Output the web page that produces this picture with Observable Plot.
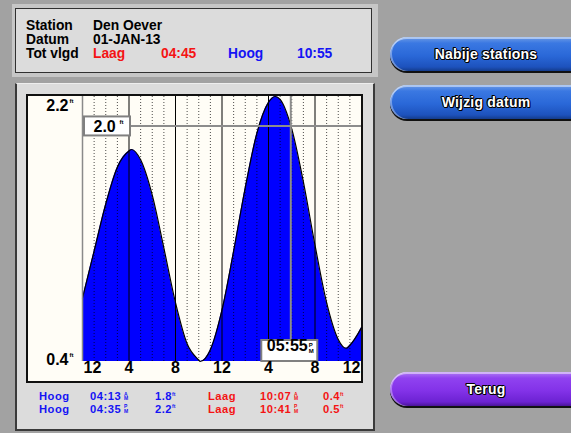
<!DOCTYPE html>
<html><head><meta charset="utf-8">
<script src="https://cdn.jsdelivr.net/npm/d3@7"></script>
<script src="https://cdn.jsdelivr.net/npm/@observablehq/plot@0.6"></script>
<style>
html,body{margin:0;padding:0;}
body{width:571px;height:433px;overflow:hidden;background:#a2a2a2;position:relative;font-family:"Liberation Sans",Arial,sans-serif;font-weight:bold;}
.abs{position:absolute;white-space:nowrap;}
#hdrOuter{position:absolute;left:12px;top:4px;width:366px;height:73px;background:#c6c6c6;}
#hdr{position:absolute;left:15px;top:8px;width:357px;height:65px;box-sizing:border-box;border:1.5px solid #303030;background:#dcdcdc;}
#panel{position:absolute;left:15px;top:83px;width:360px;height:348px;box-sizing:border-box;background:#dcdcdc;border-left:2px solid #3a3a3a;border-right:2px solid #3a3a3a;border-bottom:2px solid #3a3a3a;border-top:1px solid #eeeeee;}
#chartbox{position:absolute;left:26px;top:94px;width:337px;height:289px;box-sizing:border-box;border:2px solid #101010;background:#fffdf6;}
#chartbox svg{position:absolute;left:0;top:0;}
.h14{font-size:13.8px;line-height:14px;height:14px;color:#000;}
.t12{font-size:11.2px;line-height:11px;height:11px;letter-spacing:0.5px;}
.sup{font-size:5px;line-height:5px;height:5px;}
.btn{position:absolute;left:390px;width:200px;height:34px;border-radius:17px 0 0 17px;box-shadow:0 2px 0 #111, inset 0 2px 0 rgba(255,255,255,0.45), inset 2px 0 0 rgba(255,255,255,0.35);}
.blue{background:linear-gradient(#6f9ce6 0%,#3a78e2 18%,#2a68d8 55%,#1d52bd 88%,#143c8c 100%);}
.purple{background:linear-gradient(#b07cf2 0%,#9042f0 18%,#8332e8 55%,#6c22d2 88%,#4a1498 100%);}
.btn span{position:absolute;left:0;right:0;top:0;bottom:0;display:flex;align-items:center;justify-content:center;padding-right:8px;color:#fff;font-size:14px;letter-spacing:0.2px;text-shadow:-1px 0 #000,1px 0 #000,0 -1px #000,0 1px #000,1px 1px #000,-1px -1px #000;}
</style></head><body>
<div id="hdrOuter"></div>
<div id="hdr"></div>
<div id="panel"></div>
<div id="chartbox"></div>
<div id="layer"></div>
<script>
// ---- data ----
const headerLabels = ["Station", "Datum", "Tot vlgd"];
const stationName = "Den Oever";
const dateLabel = "01-JAN-13";
const nextTypes = ["Laag", "Hoog"];
const nextTimes = ["04:45", "10:55"];

const tideHours = [0, 1, 2, 3, 4, 4.22, 5, 6, 7, 8, 9, 10, 10.12, 11, 12, 13, 14, 15, 16, 16.58, 17, 18, 19, 20, 21, 22, 22.68, 23, 24];
const tideFeet  = [0.83, 1.15, 1.47, 1.72, 1.83, 1.84, 1.77, 1.53, 1.17, 0.80, 0.52, 0.41, 0.40, 0.48, 0.75, 1.15, 1.58, 1.95, 2.16, 2.20, 2.18, 1.98, 1.62, 1.19, 0.80, 0.55, 0.49, 0.51, 0.63];

const tickHours = [0, 4, 8, 12, 16, 20, 24];
const tickLabels = ["12", "4", "8", "12", "4", "8", "12"];
const yTickFeet = [0.4, 2.2];

const cursorHour = 17 + 55 / 60;
const cursorTime = "05:55";
const cursorMeridiem = ["P", "M"];
const cursorFeet = 2.0;

const highTimes = ["04:13", "04:35"];
const highMeridiem = ["A", "P"];
const highFeet = [1.8, 2.2];
const lowTimes = ["10:07", "10:41"];
const lowMeridiem = ["A", "P"];
const lowFeet = [0.4, 0.5];

const buttonLabels = ["Nabije stations", "Wijzig datum", "Terug"];

// ---- html text ----
const layer = document.getElementById("layer");
function put(txt, x, y, cls, color) {
  const d = document.createElement("div");
  d.className = "abs " + cls;
  d.style.left = x + "px"; d.style.top = y + "px";
  if (color) d.style.color = color;
  d.textContent = txt;
  layer.appendChild(d);
  return d;
}
const RED = "#f41414", BLUE = "#1414f4";
headerLabels.forEach((t, i) => put(t, 26, 19 + i * 14, "h14"));
put(stationName, 93, 19, "h14");
put(dateLabel, 93, 33, "h14");
put(nextTypes[0], 93, 47, "h14", RED);
put(nextTimes[0], 161, 47, "h14", RED);
put(nextTypes[1], 228, 47, "h14", BLUE);
put(nextTimes[1], 297, 47, "h14", BLUE);

[0, 1].forEach(i => {
  const top = 391 + i * 12.6;
  put("Hoog", 39, top, "t12", BLUE);
  put(highTimes[i], 90, top, "t12", BLUE);
  put(highMeridiem[i], 124, top + 0.5, "sup", BLUE);
  put("M", 124, top + 5.3, "sup", BLUE);
  put(highFeet[i].toFixed(1), 155, top, "t12", BLUE);
  put("ft", 172, top + 0.5, "sup", BLUE);
  put("Laag", 208, top, "t12", RED);
  put(lowTimes[i], 260, top, "t12", RED);
  put(lowMeridiem[i], 294, top + 0.5, "sup", RED);
  put("M", 294, top + 5.3, "sup", RED);
  put(lowFeet[i].toFixed(1), 323, top, "t12", RED);
  put("ft", 340, top + 0.5, "sup", RED);
});

const btnTops = [37, 85, 372];
buttonLabels.forEach((t, i) => {
  const b = document.createElement("div");
  b.className = "btn " + (i < 2 ? "blue" : "purple");
  b.style.top = btnTops[i] + "px";
  const s = document.createElement("span");
  s.textContent = t;
  b.appendChild(s);
  document.body.appendChild(b);
});

// ---- chart ----
const tide = tideHours.map((h, i) => ({h, v: tideFeet[i]}));
const ticks = tickHours.map((h, i) => ({h, label: tickLabels[i]}));
const minorHours = d3.range(1, 24).filter(h => h % 4 !== 0);
const majorHours = d3.range(4, 24, 4);
const yMin = d3.min(yTickFeet), yMax = d3.max(yTickFeet);
const x0 = tickHours[0];
const F = {fontSize: 16, fontWeight: "bold", fill: "#000"};
const S = {fontSize: 6, fontWeight: "bold", fill: "#000", textAnchor: "start"};

const chart = Plot.plot({
  width: 333, height: 285,
  marginLeft: 54, marginRight: 0, marginTop: 0, marginBottom: 20,
  x: {domain: [tickHours[0], tickHours[tickHours.length - 1]], axis: null},
  y: {domain: [yMin, yMax], axis: null},
  style: {background: "transparent", fontFamily: "'Liberation Sans', Arial, sans-serif", overflow: "visible"},
  marks: [
    Plot.areaY(tide, {x: "h", y1: () => yMin, y2: "v", fill: "#0000ff", curve: "monotone-x"}),
    Plot.ruleX(minorHours, {stroke: "#000", strokeOpacity: 0.7, strokeWidth: 1, strokeDasharray: "1,2"}),
    Plot.ruleX(majorHours, {stroke: "#000", strokeWidth: 1}),
    Plot.lineY(tide, {x: "h", y: "v", stroke: "#000", strokeWidth: 1.2, curve: "monotone-x"}),
    Plot.ruleX([x0], {stroke: "#8a8a8a", strokeWidth: 1.5}),
    Plot.ruleY([cursorFeet], {stroke: "#8c8c8c", strokeWidth: 2}),
    Plot.ruleX([cursorHour], {stroke: "#8c8c8c", strokeWidth: 2}),
    Plot.rect([cursorFeet], {x1: () => x0, x2: () => x0, y1: d => d, y2: d => d, fill: "#fff", stroke: "#808080", strokeWidth: 2, insetLeft: 2, insetRight: -48, insetTop: -9, insetBottom: -10}),
    Plot.text([cursorFeet], {x: () => x0, y: d => d, text: d => d.toFixed(1), textAnchor: "start", dx: 11, dy: 1, ...F}),
    Plot.text([cursorFeet], {x: () => x0, y: d => d, text: () => "ft", dx: 37, dy: -4, ...S}),
    Plot.rect([cursorHour], {x1: d => d, x2: d => d, y1: () => yMin, y2: () => yMin, fill: "#fff", stroke: "#808080", strokeWidth: 2, insetLeft: -29, insetRight: -27, insetTop: -21, insetBottom: 0}),
    Plot.text([cursorHour], {x: d => d, frameAnchor: "bottom", text: () => cursorTime, textAnchor: "start", dx: -24, dy: -10.5, ...F}),
    Plot.text([cursorHour], {x: d => d, frameAnchor: "bottom", text: () => cursorMeridiem[0], dx: 18, dy: -15, ...S}),
    Plot.text([cursorHour], {x: d => d, frameAnchor: "bottom", text: () => cursorMeridiem[1], dx: 18, dy: -9, ...S}),
    Plot.text([yMax], {y: d => d, frameAnchor: "left", text: d => d.toFixed(1), textAnchor: "end", dx: -14, dy: 9.5, ...F}),
    Plot.text([yMax], {y: d => d, frameAnchor: "left", text: () => "ft", dx: -13, dy: 5, ...S}),
    Plot.text([yMin], {y: d => d, frameAnchor: "left", text: d => d.toFixed(1), textAnchor: "end", dx: -14, dy: -1.5, ...F}),
    Plot.text([yMin], {y: d => d, frameAnchor: "left", text: () => "ft", dx: -13, dy: -6, ...S}),
    Plot.text(ticks.slice(1, -1), {x: "h", text: "label", frameAnchor: "bottom", dy: 11.5, ...F}),
    Plot.text(ticks.slice(0, 1), {x: "h", text: "label", frameAnchor: "bottom", dy: 11.5, textAnchor: "start", dx: 1, ...F}),
    Plot.text(ticks.slice(-1), {x: "h", text: "label", frameAnchor: "bottom", dy: 11.5, textAnchor: "end", dx: -1, ...F})
  ]
});
document.getElementById("chartbox").appendChild(chart);
</script>
</body></html>
